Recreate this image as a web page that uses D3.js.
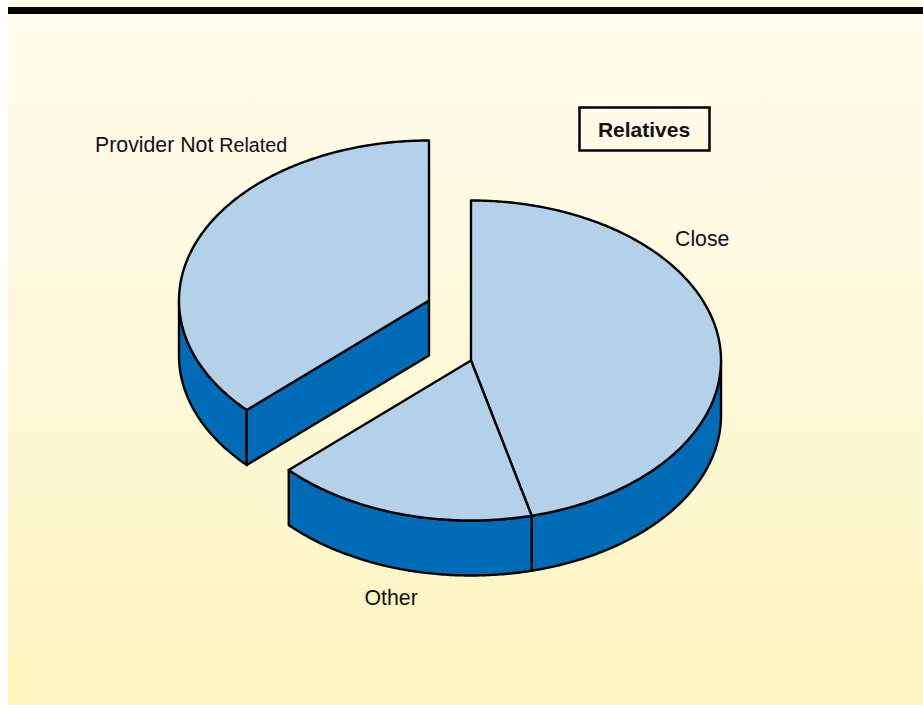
<!DOCTYPE html>
<html><head><meta charset="utf-8">
<script src="https://cdnjs.cloudflare.com/ajax/libs/d3/7.8.5/d3.min.js"></script>
<style>html,body{margin:0;padding:0;background:#fff;overflow:hidden}svg{display:block}text{font-family:"Liberation Sans",Arial,sans-serif;fill:#111}</style>
</head><body><svg id="c" width="923" height="705"></svg>
<script>
const categories = ["Close", "Other", "Provider Not Related"];
const shares = [46.1, 16.9, 37.0];
const title = "Relatives";

const W = 923, H = 705;
const svg = d3.select("#c");
const defs = svg.append("defs");
const grad = defs.append("linearGradient").attr("id","bg").attr("x1",0).attr("x2",0).attr("y1",0).attr("y2",1);
grad.append("stop").attr("offset","0%").attr("stop-color","#fffcee");
grad.append("stop").attr("offset","35%").attr("stop-color","#fefae2");
grad.append("stop").attr("offset","100%").attr("stop-color","#fcf5be");
svg.append("rect").attr("x",8).attr("y",0).attr("width",W-8).attr("height",H).attr("fill","url(#bg)");
svg.append("rect").attr("x",8).attr("y",7).attr("width",W-8).attr("height",7).attr("fill","#000");

// projection of unit circle onto the tilted pie plane
const sx = d3.scaleLinear().domain([-1,1]).range([-250,250]);
const sy = d3.scaleLinear().domain([-1,1]).range([-160,160]);
const depth = 55;
const arcs = d3.pie().sort(null).value(d=>d)(shares);
const centers = [[471,360.5],[471,360.5],[429,300.5]];
const TOP = "#b3d2ea", SIDE = "#006bb6";
const line = d3.line();
const pt = (c,a,dz=0)=>[c[0]+sx(Math.sin(a)), c[1]+sy(-Math.cos(a))+dz];
const rim = (c,a0,a1,dz=0)=>{
  const n = Math.max(2,Math.ceil(Math.abs(a1-a0)/0.01));
  return d3.range(n+1).map(i=>pt(c,a0+(a1-a0)*i/n,dz));
};
const g = svg.append("g").attr("stroke","#000").attr("stroke-width",2.4).attr("stroke-linejoin","round");
const draw = (pts,fill)=>g.append("path").attr("d",line(pts)+"Z").attr("fill",fill);

arcs.forEach((d,i)=>{
  const c = centers[i];
  // outer wall: only the front half of the rim is visible
  const a0 = Math.max(d.startAngle,Math.PI/2), a1 = Math.min(d.endAngle,3*Math.PI/2);
  if (a1>a0) draw(rim(c,a0,a1).concat(rim(c,a1,a0,depth)),SIDE);
  // cut wall exposed by the exploded slice
  if (i===2) draw([pt(c,d.startAngle),c,[c[0],c[1]+depth],pt(c,d.startAngle,depth)],SIDE);
});
arcs.forEach((d,i)=>{
  const c = centers[i];
  draw([c].concat(rim(c,d.startAngle,d.endAngle)),TOP);
});

// labels
const lab = svg.append("g").attr("font-size",21.3);
lab.append("text").attr("x",675).attr("y",246).text(categories[0]);
lab.append("text").attr("x",364.5).attr("y",604.5).text(categories[1]);
const words = categories[2].split(" ");
const t = lab.append("text").attr("x",95).attr("y",152);
t.append("tspan").text(words.slice(0,2).join(" ")+" ");
t.append("tspan").attr("font-size",19.7).text(words[2]);

svg.append("rect").attr("x",579.5).attr("y",107.5).attr("width",130).attr("height",43).attr("fill","none").attr("stroke","#000").attr("stroke-width",2.5);
svg.append("text").attr("x",644).attr("y",136.5).attr("text-anchor","middle").attr("font-size",21).attr("font-weight","bold").text(title);
</script></body></html>
